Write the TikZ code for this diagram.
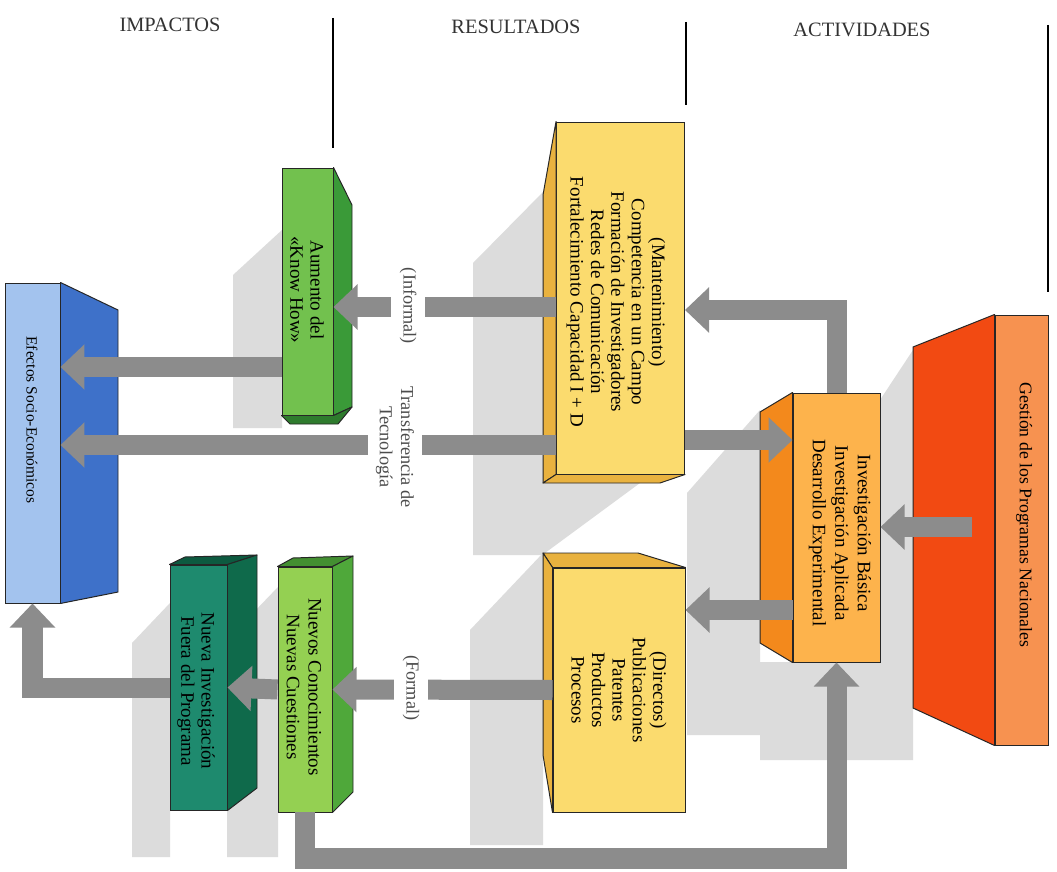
\documentclass[tikz,border=0pt]{standalone}
\usepackage{fontspec}
\setmainfont{Liberation Serif}
\usepackage{tikz}
\usetikzlibrary{arrows.meta}
\definecolor{gris}{HTML}{8C8C8C}
\definecolor{sombrac}{HTML}{DCDCDC}
\definecolor{azulc}{HTML}{A3C3EE}
\definecolor{azulo}{HTML}{3E71C9}
\definecolor{verdec}{HTML}{72C14E}
\definecolor{verdeo}{HTML}{3A9A38}
\definecolor{amac}{HTML}{FBDB6E}
\definecolor{amao}{HTML}{E9B23F}
\definecolor{naranjac}{HTML}{FDB34C}
\definecolor{naranjao}{HTML}{F3891C}
\definecolor{rojoc}{HTML}{F79250}
\definecolor{rojoo}{HTML}{F24A12}
\definecolor{limac}{HTML}{94D052}
\definecolor{limao}{HTML}{4FA83A}
\definecolor{tealc}{HTML}{1E8A6E}
\definecolor{tealo}{HTML}{0F6A4B}

\begin{document}
\begin{tikzpicture}[x=0.025cm,y=-0.025cm,
  cara/.style 2 args={draw=black!85,line width=0.7pt,inner sep=0pt,
    minimum width=#1*0.025cm,minimum height=#2*0.025cm},
  lado/.style={draw=black!85,line width=0.7pt,line join=round},
  texto/.style={rotate=-90,align=center,text=black,
    font=\fontsize{13.5}{14.5}\selectfont},
  etiqueta/.style={rotate=-90,align=center,fill=white,inner xsep=1pt,
    inner ysep=6pt,text=black!70,font=\fontsize{13}{15}\selectfont},
  titulo/.style={text=black!80,font=\fontsize{14.5}{16}\selectfont},
  flecha/.style={draw=gris,line width=0.5cm,line join=miter,
    -{Triangle[width=1.1cm,length=0.6cm]}},
  sombra/.style={fill=sombrac}]
  \fill[white] (0,0) rectangle (1057,872);
  \useasboundingbox (0,0) rectangle (1057,872);

  % columnas
  \node[titulo] (impactos)   at (170,25) {IMPACTOS};
  \node[titulo] (resultados) at (516,27) {RESULTADOS};
  \node[titulo] (actividades) at (862,30) {ACTIVIDADES};
  \draw[line width=1.2pt] (333,18) -- (333,148);
  \draw[line width=1.2pt] (686,22) -- (686,105);
  \draw[line width=1.2pt] (1048,25) -- (1048,292);

  % sombras
  \fill[sombra] (233,275) -- (282,230) -- (282,428) -- (233,428) -- cycle;
  \fill[sombra] (473,263) -- (545,190) -- (545,555) -- (473,555) -- cycle;
  \fill[sombra] (545,483) -- (640,483) -- (545,553) -- cycle;
  \fill[sombra] (687,493) -- (760,410) -- (760,735) -- (687,735) -- cycle;
  \fill[sombra] (880,400) -- (913,350) -- (913,760) -- (760,760) -- (760,662) -- (880,662) -- cycle;
  \fill[sombra] (132,643) -- (170,603) -- (170,857) -- (132,857) -- cycle;
  \fill[sombra] (227,640) -- (278,587) -- (278,857) -- (227,857) -- cycle;
  \fill[sombra] (470,630) -- (543,553) -- (543,845) -- (470,845) -- cycle;

  % impactos
  \node[cara={55}{320},fill=azulc] (efectos) at (32.5,443) {};
  \filldraw[lado,fill=azulo] (efectos.north east) -- (118,310) -- (118,592) -- (efectos.south east) -- cycle;
  \node[texto,font=\fontsize{11}{13}\selectfont] (efectos-t) at (32,420) {Efectos Socio-Económicos};

  \node[cara={51}{247},fill=verdec] (aumento) at (307.5,291.5) {};
  \filldraw[lado,fill=verdeo] (aumento.north east) -- (352,205) -- (352,407) -- (aumento.south east) -- cycle;
  \filldraw[lado,fill=verdeo!80!black] (aumento.south west) -- (aumento.south east) -- (352,407) -- (338,424) -- (290,424) -- cycle;
  \node[texto] (aumento-t) at (307,290) {Aumento del\\«Know How»};

  \node[cara={57}{245},fill=tealc] (nueva) at (198.5,687.5) {};
  \filldraw[lado,fill=tealo!85!black] (nueva.north west) -- (185,557) -- (257,555) -- (nueva.north east) -- cycle;
  \filldraw[lado,fill=tealo] (nueva.north east) -- (257,555) -- (257,788) -- (nueva.south east) -- cycle;
  \node[texto] (nueva-t) at (196,691) {Nueva Investigación\\Fuera del Programa};

  \node[cara={54}{245},fill=limac] (nuevos) at (305,689.5) {};
  \filldraw[lado,fill=limao!85!black] (nuevos.north west) -- (293,558) -- (353,556) -- (nuevos.north east) -- cycle;
  \filldraw[lado,fill=limao] (nuevos.north east) -- (353,556) -- (353,792) -- (nuevos.south east) -- cycle;
  \node[texto,font=\fontsize{13.5}{15.5}\selectfont] (nuevos-t) at (304,687) {Nuevos Conocimientos\\Nuevas Cuestiones};

  % resultados
  \node[cara={128}{352},fill=amac] (mant) at (620.5,298) {};
  \filldraw[lado,fill=amao] (mant.north west) -- (543,195) -- (543,483) -- (mant.south west) -- cycle;
  \filldraw[lado,fill=amao] (mant.south west) -- (mant.south east) -- (660,483) -- (543,483) -- cycle;
  \node[texto] (mant-t) at (616,302) {(Mantenimiento)\\Competencia en un Campo\\Formación de Investigadores\\Redes de Comunicación\\Fortalecimiento Capacidad I + D};

  \node[cara={132}{244},fill=amac] (dirb) at (619,690) {};
  \filldraw[lado,fill=amao] (543,553) -- (638,553) -- (dirb.north east) -- (dirb.north west) -- cycle;
  \filldraw[lado,fill=amao] (543,553) -- (dirb.north west) -- (dirb.south west) -- (543,755) -- cycle;
  \node[texto] (dirb-t) at (619,690) {(Directos)\\Publicaciones\\Patentes\\Productos\\Procesos};

  % actividades
  \node[cara={87}{269},fill=naranjac] (invest) at (836.5,527.5) {};
  \filldraw[lado,fill=naranjao] (760,412) -- (invest.north west) -- (invest.south west) -- (760,643) -- cycle;
  \node[texto,font=\fontsize{13.5}{16}\selectfont] (invest-t) at (840,533) {Investigación Básica\\Investigación Aplicada\\Desarrollo Experimental};

  \node[cara={53}{430},fill=rojoc] (gest) at (1021.5,530) {};
  \filldraw[lado,fill=rojoo] (913,347) -- (gest.north west) -- (gest.south west) -- (913,708) -- cycle;
  \node[texto,font=\fontsize{12.6}{14}\selectfont] (gest-t) at (1024,515) {Gestión de los Programas Nacionales};

  % flechas
  \coordinate (r-inf) at (0,307);
  \coordinate (r-kh)  at (0,367);
  \coordinate (r-io)  at (0,440);
  \coordinate (r-tt)  at (0,445);
  \coordinate (r-ret) at (0,310);
  \coordinate (r-dir) at (0,610);
  \coordinate (r-ges) at (972,527);

  \draw[flecha] (mant.west |- r-inf) -- (aumento.east |- r-inf);
  \draw[flecha] (aumento.west |- r-kh) -- (efectos.east |- r-kh);
  \draw[flecha] (mant.west |- r-tt) -- (efectos.east |- r-tt);
  \draw[flecha] (mant.east |- r-io) -- (invest.west |- r-io);
  \draw[flecha] (invest.north) |- (mant.east |- r-ret);
  \draw[flecha] (r-ges) -- (invest.east |- r-ges);
  \draw[flecha] (invest.west |- r-dir) -- (dirb.east |- r-dir);
  \draw[flecha] (dirb.west) -- (nuevos.east);
  \draw[flecha] (nuevos.west) -- (nueva.east);
  \draw[flecha] (nueva.west) -| (efectos.south);
  \draw[flecha] (nuevos.south) -- ++(0,46) -| (invest.south);

  % etiquetas
  \node[etiqueta] (informal) at (408,306) {(Informal)};
  \node[etiqueta] (transf) at (395,447) {Transferencia de\\Tecnología};
  \node[etiqueta] (formal) at (411,688) {(Formal)};
\end{tikzpicture}
\end{document}
